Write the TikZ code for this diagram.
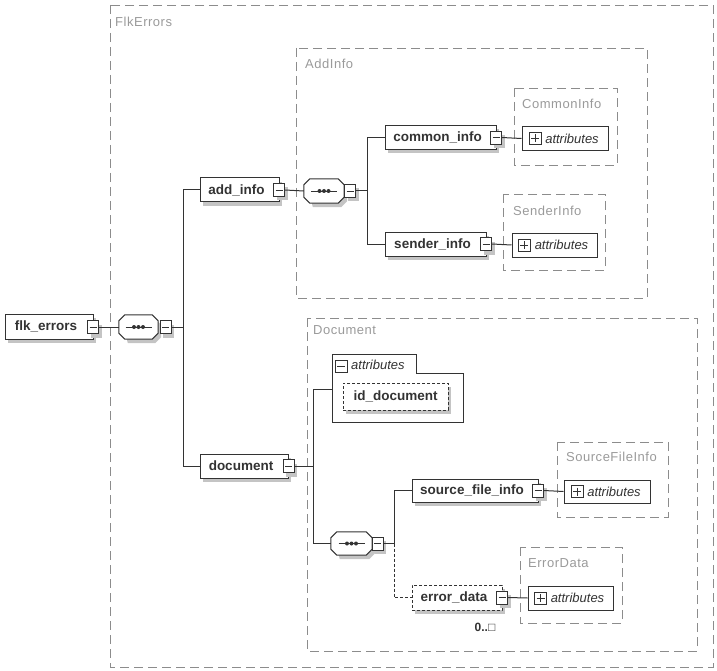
\documentclass[tikz,border=0pt]{standalone}
\usepackage{fontspec}
\setmainfont{Liberation Sans}
\definecolor{linec}{HTML}{333333}
\definecolor{grpc}{HTML}{8C8C8C}
\definecolor{grplab}{HTML}{9A9A9A}
\definecolor{shadc}{HTML}{C4C4C4}
\newcommand{\efont}{\fontsize{13.5}{15}\selectfont\bfseries}
\newcommand{\afont}{\fontsize{13}{15}\selectfont\itshape}
\newcommand{\gfont}{\fontsize{13}{15}\selectfont\addfontfeature{LetterSpace=4}}
\newcommand{\octpath}[1]{([xshift=6pt]#1.north west) -- ([xshift=-6pt]#1.north east) -- ([yshift=-6pt]#1.north east) -- ([yshift=6pt]#1.south east) -- ([xshift=-6pt]#1.south east) -- ([xshift=6pt]#1.south west) -- ([yshift=6pt]#1.south west) -- ([yshift=-6pt]#1.north west) -- cycle}
\newcommand{\seqdraw}[1]{%
  \fill[shadc] ([shift={(3pt,-4pt)}]#1.north west) -- ([shift={(-3pt,-4pt)}]#1.north east) -- ([shift={(3pt,-10pt)}]#1.north east) -- ([shift={(3pt,2pt)}]#1.south east) -- ([shift={(-3pt,-4pt)}]#1.south east) -- ([shift={(9pt,-4pt)}]#1.south west) -- cycle;
  \draw[draw=linec,line width=1pt,fill=white] \octpath{#1};
  \draw[linec,line width=0.8pt] ([xshift=-13pt]#1.center) -- ([xshift=13pt]#1.center);
  \fill[linec] ([xshift=-4.5pt]#1.center) circle (2pt) (#1.center) circle (2pt) ([xshift=4.5pt]#1.center) circle (2pt);}
\begin{document}
\begin{tikzpicture}[x=1pt,y=-1pt,
  shad/.style={preaction={fill=shadc,transform canvas={xshift=3pt,yshift=-4pt}}},
  elem/.style={draw=linec,line width=1pt,fill=white,inner sep=0pt,font=\efont,text=linec,shad},
  mbox/.style={draw=linec,line width=0.8pt,fill=white,minimum width=11pt,minimum height=13pt,inner sep=0pt,
    path picture={\draw[linec,line width=0.8pt] ([xshift=2pt]path picture bounding box.west) -- ([xshift=-2pt]path picture bounding box.east);}},
  pbox/.style={draw=linec,line width=0.8pt,fill=white,minimum width=12pt,minimum height=12pt,inner sep=0pt,
    path picture={\draw[linec,line width=0.8pt] ([xshift=2pt]path picture bounding box.west) -- ([xshift=-2pt]path picture bounding box.east)
      ([yshift=-2pt]path picture bounding box.north) -- ([yshift=2pt]path picture bounding box.south);}},
  attr/.style={draw=linec,line width=1pt,fill=white,inner sep=0pt,minimum height=24pt,font=\afont,text=linec},
  seqbox/.style={rectangle,inner sep=0pt,minimum width=40pt,minimum height=24pt},
  grp/.style={draw=grpc,line width=0.8pt,dash pattern=on 9pt off 5pt},
  glab/.style={font=\gfont,text=grplab,anchor=west,inner sep=0pt},
  conn/.style={draw=linec,line width=1pt}]
\useasboundingbox (0,0) rectangle (717,671);

% groups
\draw[grp] (110,5) rectangle (713,667);
\node[glab] (gflk) at (115,22) {FlkErrors};
\draw[grp] (296,48) rectangle (647,298);
\node[glab] (gadd) at (305,64) {AddInfo};
\draw[grp] (514,88) rectangle (617,165);
\node[glab] (gci) at (522,104) {CommonInfo};
\draw[grp] (503,194) rectangle (605,270);
\node[glab] (gsi) at (513,211) {SenderInfo};
\draw[grp] (307,318) rectangle (697,651);
\node[glab] (gdoc) at (313,330) {Document};
\draw[grp] (557,442) rectangle (668,517);
\node[glab] (gsfi) at (566,457) {SourceFileInfo};
\draw[grp] (520,547) rectangle (622,623);
\node[glab] (ged) at (528,563) {ErrorData};

% root
\node[elem,minimum width=88pt,minimum height=25pt] (flk) at (49,326.5) {\hspace*{-6pt}flk\_errors};
\node[mbox,shad] (flkm) at (93,327) {};
\node[seqbox,minimum width=39pt] (s1) at (138.5,327) {};
\seqdraw{s1}
\node[mbox,shad] (s1m) at (165.5,327) {};
\coordinate (b1) at (183,327);

% add_info branch
\node[elem,minimum width=79pt,minimum height=24pt] (add) at (239.5,190) {\hspace*{-6pt}add\_info};
\node[mbox,shad] (addm) at (279,190) {};
\node[elem,minimum width=88pt,minimum height=24pt] (doc) at (244,466) {\hspace*{-6pt}document};
\node[mbox,shad] (docm) at (288.5,466) {};

\node[seqbox] (s2) at (324,191) {};
\seqdraw{s2}
\node[mbox,shad] (s2m) at (350,191) {};
\coordinate (b2) at (367,191);

\node[elem,minimum width=111pt,minimum height=24pt] (ci) at (440.5,137.5) {\hspace*{-6pt}common\_info};
\node[mbox,shad] (cim) at (496,137.5) {};
\node[elem,minimum width=101pt,minimum height=24pt] (si) at (435.5,244) {\hspace*{-6pt}sender\_info};
\node[mbox,shad] (sim) at (486,244) {};

\node[attr,minimum width=86pt] (aci) at (565,138.5) {\hspace*{14pt}attributes};
\node[pbox] (acip) at (535,138.5) {};
\node[attr,minimum width=85pt] (asi) at (554.5,245) {\hspace*{14pt}attributes};
\node[pbox] (asip) at (524,245) {};

% document branch
\draw[draw=linec,line width=1pt,fill=white] (332,354) -- (416,354) -- (416,373) -- (463,373) -- (463,422) -- (332,422) -- cycle;
\coordinate (ag) at (332,389);
\node[mbox,minimum width=12pt,minimum height=12pt] (agm) at (341,366) {};
\node[font=\afont,text=linec,anchor=west,inner sep=0pt] (agl) at (351,365) {attributes};
\node[elem,dash pattern=on 3pt off 2pt,minimum width=105pt,minimum height=27pt] (idd) at (395.5,396.5) {id\_document};
\coordinate (b3) at (313,466);

\node[seqbox,minimum width=41pt,minimum height=23pt] (s3) at (351.5,543.5) {};
\seqdraw{s3}
\node[mbox,shad] (s3m) at (377.5,543.5) {};
\coordinate (b4) at (394,543.5);

\node[elem,minimum width=126pt,minimum height=23pt] (sfi) at (475,490.5) {\hspace*{-6pt}source\_file\_info};
\node[mbox,shad] (sfim) at (538,490.5) {};
\node[attr,minimum width=86pt,minimum height=23pt] (asfi) at (607,491.5) {\hspace*{14pt}attributes};
\node[pbox] (asfip) at (577,491.5) {};

\node[elem,dash pattern=on 3pt off 2pt,minimum width=90pt,minimum height=25pt] (ed) at (457,597.5) {\hspace*{-6pt}error\_data};
\node[mbox,shad] (edm) at (502,597.5) {};
\node[font=\fontsize{12}{14}\selectfont\bfseries,text=linec,inner sep=0pt] (occ) at (485,627) {0..□};
\node[attr,minimum width=85pt] (aed) at (570.5,598) {\hspace*{14pt}attributes};
\node[pbox] (aedp) at (540.5,598) {};

% connectors
\draw[conn] (flkm.east) -- (s1.west);
\draw[conn] (s1m.east) -- (b1);
\draw[conn] (add.west) -- (add.west -| b1) -- (doc.west -| b1) -- (doc.west);
\draw[conn] (addm.east) -- (s2.west);
\draw[conn] (s2m.east) -- (b2);
\draw[conn] (ci.west) -- (ci.west -| b2) -- (si.west -| b2) -- (si.west);
\draw[conn] (cim.east) -- (aci.west);
\draw[conn] (sim.east) -- (asi.west);
\draw[conn] (docm.east) -- (b3);
\draw[conn] (ag) -- (ag -| b3) -- (s3.west -| b3) -- (s3.west);
\draw[conn] (s3m.east) -- (b4);
\draw[conn] (b4) -- (sfi.west -| b4) -- (sfi.west);
\draw[conn,dash pattern=on 3pt off 2pt] (b4) -- (ed.west -| b4) -- (ed.west);
\draw[conn] (sfim.east) -- (asfi.west);
\draw[conn] (edm.east) -- (aed.west);
\end{tikzpicture}
\end{document}
